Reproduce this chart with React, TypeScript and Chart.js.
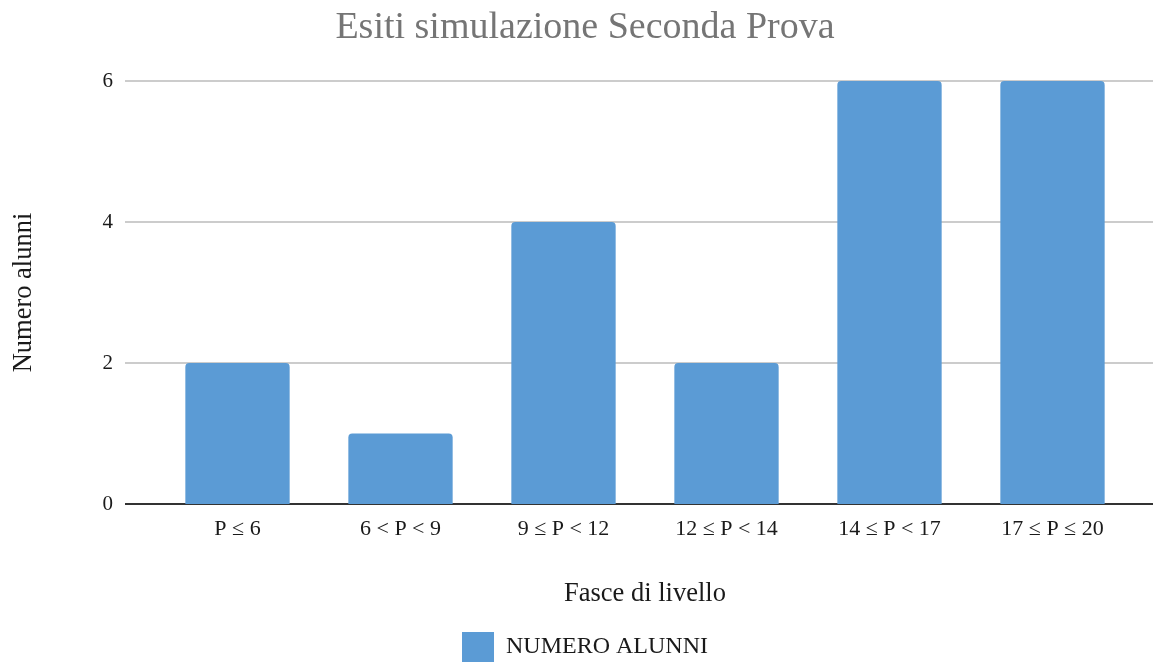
import React, { useEffect, useRef } from "react";
import { Chart, registerables } from "chart.js";

Chart.register(...registerables);

const categories = ["P ≤ 6", "6 < P < 9", "9 ≤ P < 12", "12 ≤ P < 14", "14 ≤ P < 17", "17 ≤ P ≤ 20"];
const numeroAlunni = [2, 1, 4, 2, 6, 6];
const seriesLabel = "NUMERO ALUNNI";
const chartTitle = "Esiti simulazione Seconda Prova";
const xTitle = "Fasce di livello";
const yTitle = "Numero alunni";

const FONT = "'Liberation Serif', 'Times New Roman', serif";

const extendedGrid = {
  id: "extendedGrid",
  beforeDatasetsDraw(chart: any) {
    const { ctx, chartArea, scales } = chart;
    const y = scales.y;
    const x0 = chartArea.left - 31;
    const x1 = chart.width;
    ctx.save();
    y.ticks.forEach((t: any) => {
      const py = Math.round(y.getPixelForValue(t.value));
      ctx.beginPath();
      ctx.strokeStyle = t.value === 0 ? "#333333" : "#cccccc";
      ctx.lineWidth = 2;
      ctx.moveTo(x0, py);
      ctx.lineTo(x1, py);
      ctx.stroke();
    });
    ctx.restore();
  },
};

export default function App() {
  const ref = useRef<HTMLCanvasElement>(null);
  useEffect(() => {
    if (!ref.current) return;
    const chart = new Chart(ref.current, {
      type: "bar",
      data: {
        labels: categories,
        datasets: [
          {
            label: seriesLabel,
            data: numeroAlunni,
            backgroundColor: "#5b9bd5",
            borderWidth: 0,
            borderRadius: { topLeft: 4, topRight: 4, bottomLeft: 0, bottomRight: 0 },
            borderSkipped: false,
            categoryPercentage: 0.8,
            barPercentage: 0.8,
          },
        ],
      },
      options: {
        responsive: false,
        animation: false,
        layout: { padding: { left: 17, right: 0, top: 0, bottom: -9 } },
        plugins: {
          title: {
            display: true,
            text: chartTitle,
            color: "#757575",
            font: { family: FONT, size: 38, weight: "normal" },
            padding: { top: 5.5, bottom: 29.9 },
          },
          legend: {
            display: true,
            position: "bottom",
            labels: {
              boxWidth: 32,
              boxHeight: 30,
              padding: 10,
              color: "#1a1a1a",
              font: { family: FONT, size: 24 },
            },
          },
          tooltip: { enabled: false },
        },
        scales: {
          x: {
            offset: true,
            grid: { display: false, drawTicks: false },
            border: { display: false },
            ticks: {
              color: "#1a1a1a",
              font: { family: FONT, size: 22 },
              padding: 12,
              maxRotation: 0,
            },
            title: {
              display: true,
              text: xTitle,
              color: "#1a1a1a",
              font: { family: FONT, size: 26.5 },
              padding: { top: 0, bottom: 12.3 },
            },
            afterFit(scale: any) {
              scale.height = 118;
            },
          },
          y: {
            min: 0,
            max: 6,
            grid: { display: false, drawTicks: false },
            border: { display: false },
            ticks: {
              stepSize: 2,
              color: "#1a1a1a",
              font: { family: FONT, size: 21 },
              padding: 43,
            },
            title: {
              display: true,
              text: yTitle,
              color: "#1a1a1a",
              font: { family: FONT, size: 26.5 },
              padding: { top: -9, bottom: 0 },
            },
            afterFit(scale: any) {
              scale.width = 139;
            },
          },
          yRightSpace: {
            position: "right",
            display: true,
            grid: { display: false, drawTicks: false },
            border: { display: false },
            ticks: { display: false },
            afterFit(scale: any) {
              scale.width = 19;
            },
          },
        },
      },
      plugins: [extendedGrid],
    });
    return () => chart.destroy();
  }, []);
  return (
    <div style={{ position: "absolute", left: 0, top: 0, width: 1153, height: 663, background: "#ffffff" }}>
      <canvas ref={ref} width={1153} height={663} style={{ display: "block" }} />
    </div>
  );
}
